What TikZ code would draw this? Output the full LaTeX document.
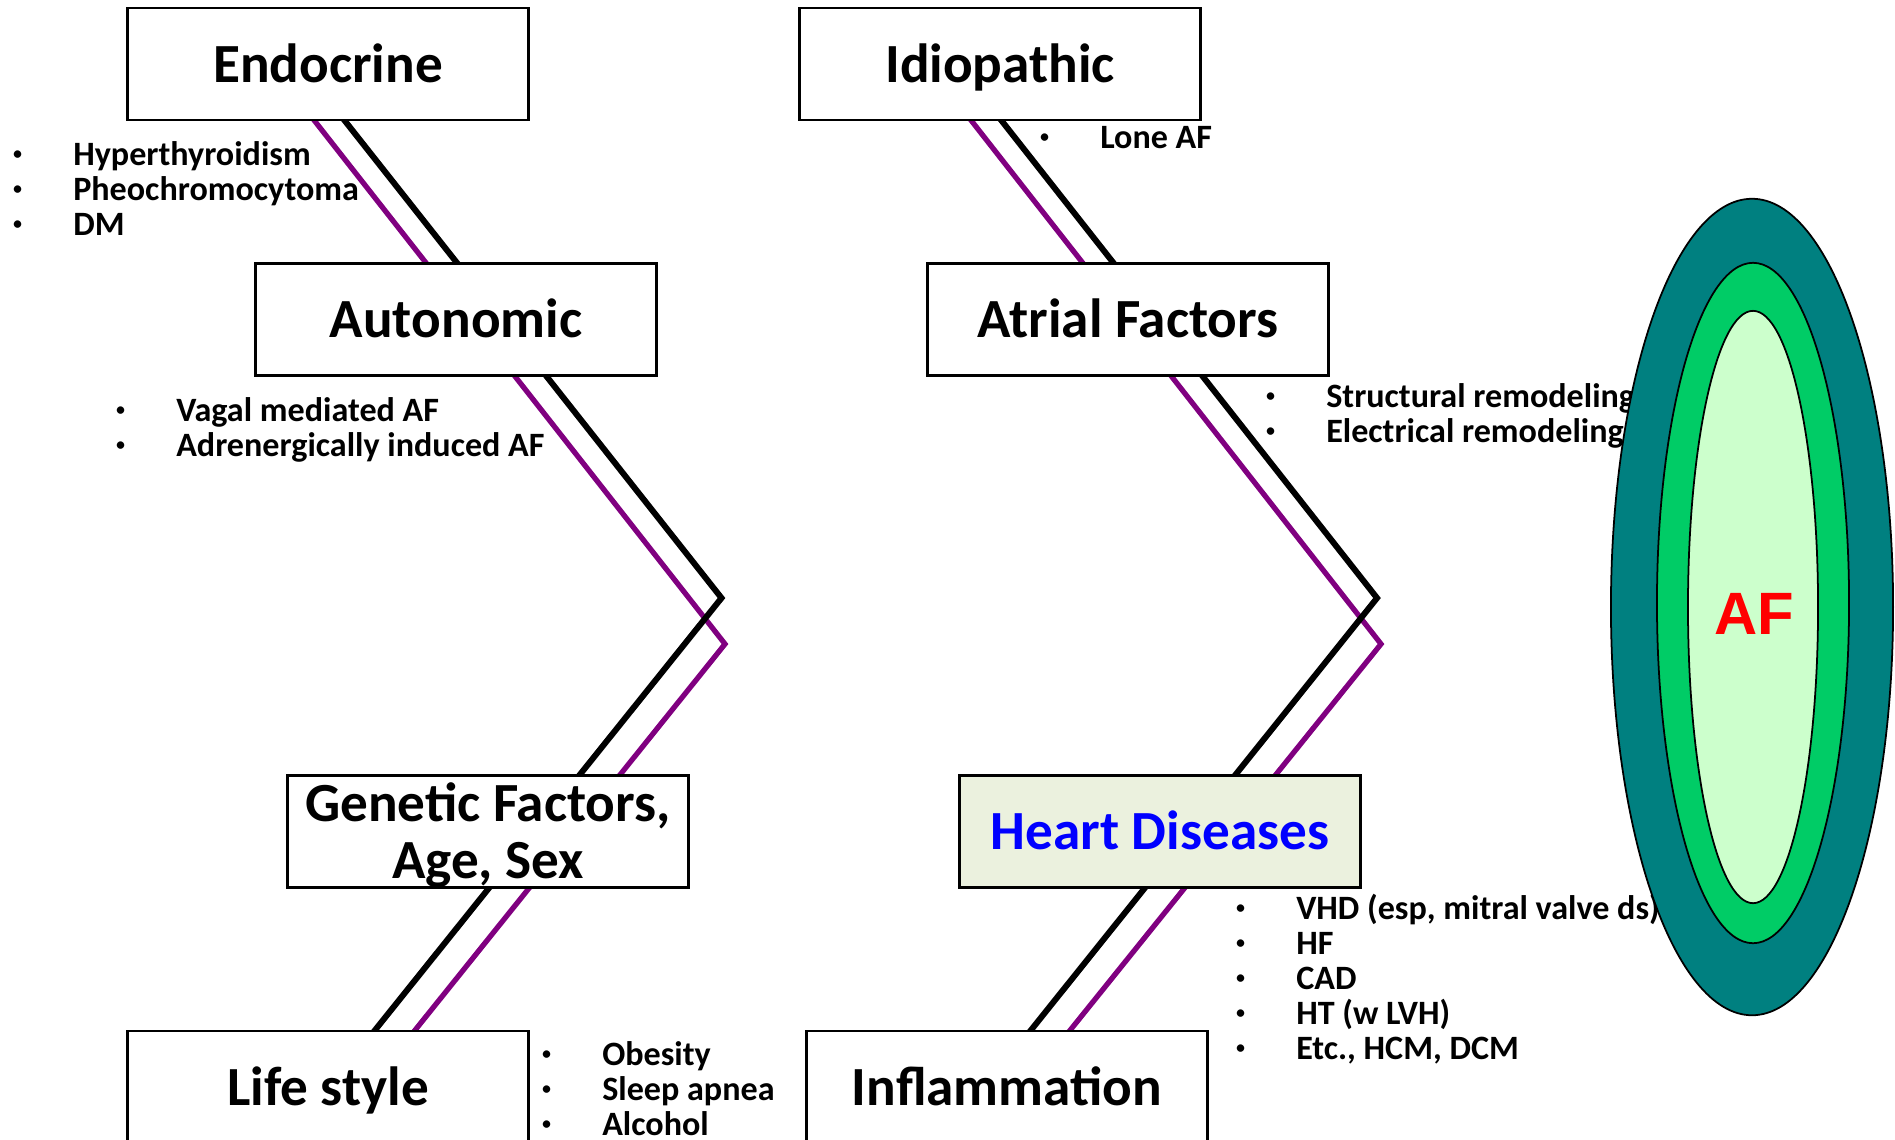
\documentclass[tikz,border=0pt]{standalone}
\usepackage{fontspec}
\setmainfont{Carlito}
\newfontfamily\afont{Liberation Sans}
\usepackage{tikz}
\usetikzlibrary{positioning}

\definecolor{afteal}{RGB}{0,128,128}
\definecolor{afgreen}{RGB}{0,204,102}
\definecolor{afpale}{RGB}{204,255,204}
\definecolor{linepurple}{RGB}{128,0,128}
\definecolor{heartfill}{RGB}{235,241,222}

\newcommand{\bitem}[1]{\makebox[0pt][c]{\raisebox{1.3pt}{\fontsize{6}{6}\selectfont\mdseries\textbullet}}\hspace{15.8pt}#1}

\begin{document}
\begin{tikzpicture}[x=0.01cm, y=-0.01cm,
    factor/.style={draw, line width=0.8pt, fill=white, minimum width=4cm, minimum height=1.12cm,
      inner sep=0pt, align=center, font=\fontsize{15.7}{16.2}\selectfont\bfseries},
    oneline/.style={text height=13pt, text depth=2.7pt},
    point/.style={anchor=base west, inner sep=0pt, font=\fontsize{9.7}{11}\selectfont\bfseries},
    blackline/.style={line width=1.7pt, line join=miter},
    purpleline/.style={linepurple, line width=1.5pt, line join=miter}]
    \clip (0,0) rectangle (1895,1139);

    % Zigzag paths behind the boxes
    \coordinate (pl-top) at (270,64);  \coordinate (pl-tip) at (725,644);  \coordinate (pl-end) at (367,1090);
    \coordinate (bl-top) at (300,64);  \coordinate (bl-tip) at (721.5,598); \coordinate (bl-end) at (327,1090);
    \coordinate (pr-top) at (927,64);  \coordinate (pr-tip) at (1381,644); \coordinate (pr-end) at (1022,1090);
    \coordinate (br-top) at (957,64);  \coordinate (br-tip) at (1377,598); \coordinate (br-end) at (983,1090);
    \draw[purpleline] (pl-top) -- (pl-tip) -- (pl-end);
    \draw[blackline] (bl-top) -- (bl-tip) -- (bl-end);
    \draw[purpleline] (pr-top) -- (pr-tip) -- (pr-end);
    \draw[blackline] (br-top) -- (br-tip) -- (br-end);

    % Left column
    \node[factor, oneline] (endocrine) at (328,64) {Endocrine};
    \node[factor, oneline] (autonomic) at (456,319.5) {Autonomic};
    \node[factor] (genetic) at (488,831.5) {};
    \node[font=\fontsize{15.7}{16.2}\selectfont\bfseries, align=center, inner sep=0pt]
        (genetic-text) at ([yshift=-0.04cm]genetic.center) {Genetic Factors,\\ Age, Sex};
    \node[factor, oneline] (lifestyle) at (328,1087) {Life style};

    % Right column
    \node[factor, oneline] (idiopathic) at (1000,64) {Idiopathic};
    \node[factor, oneline] (atrial) at (1128,319.5) {Atrial Factors};
    \node[factor, oneline, fill=heartfill, text=blue] (heart) at (1160,831.5) {Heart Diseases};
    \node[factor, oneline] (inflammation) at (1007,1087) {Inflammation};

    % Bullet lists
    \foreach \t [count=\i] in {Hyperthyroidism, Pheochromocytoma, DM}
        \node[point] (endo-\i) at (17,130+35*\i) {\bitem{\t}};
    \foreach \t [count=\i] in {Vagal mediated AF, Adrenergically induced AF}
        \node[point] (auto-\i) at (120,386.5+35*\i) {\bitem{\t}};
    \node[point] (idio-1) at (1044,148.5) {\bitem{Lone AF}};
    \foreach \t [count=\i] in {Structural remodeling, Electrical remodeling}
        \node[point] (atri-\i) at (1270,372+35*\i) {\bitem{\t}};
    \foreach \t [count=\i] in {{VHD (esp, mitral valve ds)}, HF, CAD, HT (w LVH), {Etc., HCM, DCM}}
        \node[point] (hear-\i) at (1240,884.5+35*\i) {\bitem{\t}};
    \foreach \t [count=\i] in {Obesity, Sleep apnea, Alcohol}
        \node[point] (life-\i) at (546,1030.5+35*\i) {\bitem{\t}};

    % AF target
    \draw[fill=afteal, line width=0.5pt] (1752,607) ellipse [x radius=1.41cm, y radius=4.08cm];
    \draw[fill=afgreen, line width=0.5pt] (1753,603) ellipse [x radius=0.96cm, y radius=3.40cm];
    \draw[fill=afpale, line width=0.5pt] (1753,607) ellipse [x radius=0.65cm, y radius=2.96cm];
    \node[font=\afont\bfseries\fontsize{17}{17}\selectfont, text=red, inner sep=0pt] (af) at (1754,614) {AF};
\end{tikzpicture}
\end{document}
